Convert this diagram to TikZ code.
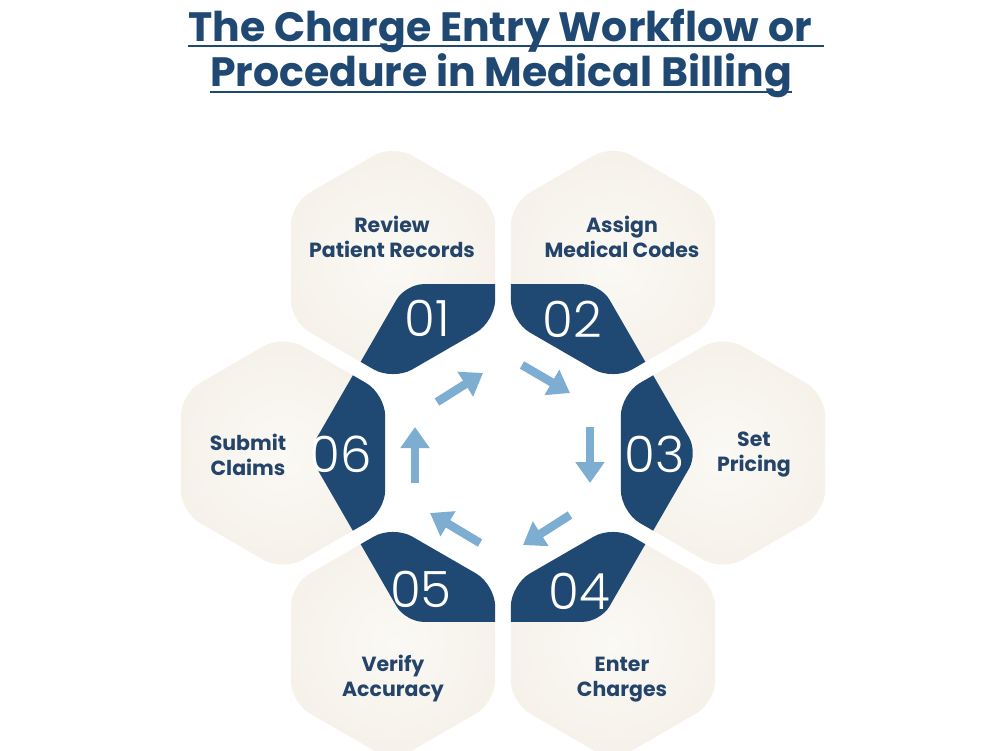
\documentclass[tikz,border=0pt]{standalone}
\usepackage{fontspec}
\setmainfont{Poppins}
\newfontfamily\numfont{Poppins Light}
\usetikzlibrary{calc,arrows.meta}
\definecolor{navy}{HTML}{1F4972}
\definecolor{txtnavy}{HTML}{24446A}
\definecolor{cream}{HTML}{F5F1E9}
\definecolor{creamdark}{HTML}{EBE4D7}
\definecolor{creamlight}{HTML}{FBF9F5}
\definecolor{arrowblue}{HTML}{7DAED1}
\pgfdeclareradialshading{creamshade}{\pgfpoint{0bp}{0bp}}{color(0bp)=(creamlight); color(25bp)=(cream); color(50bp)=(creamdark)}
\begin{document}
\begin{tikzpicture}[x=1pt,y=-1pt,
  lbl/.style={font=\fontsize{20.5}{25}\selectfont\bfseries, text=txtnavy, align=center, inner sep=0pt},
  num/.style={font=\numfont\fontsize{50}{50}\selectfont, text=white, inner sep=0pt},
  flow/.style={draw=arrowblue, line width=8.5pt, -{Triangle[length=21pt,width=28pt]}},
  ttl/.style={font=\fontsize{41}{46}\selectfont\bfseries, text=navy, inner sep=0pt},
  uline/.style={draw=navy, line width=2.5pt}]
\useasboundingbox (0,0) rectangle (1000,750);
\fill[white] (0,0) rectangle (1000,750);

% title
\node[ttl, anchor=base] (t1) at (500,41) {The Charge Entry Workflow or};
\node[ttl, anchor=base] (t2) at (501,86) {Procedure in Medical Billing};
\draw[uline] ($(t1.base west)+(0,5)$) -- ($(t1.base east)+(12,5)$);
\draw[uline] ($(t2.base west)+(0,6)$) -- ($(t2.base east)+(0,6)$);

% geometry
\coordinate (C) at (503,453);
\coordinate (h1) at (393,262.5);
\coordinate (h2) at (613,262.5);
\coordinate (h3) at (723,453);
\coordinate (h4) at (613,643.5);
\coordinate (h5) at (393,643.5);
\coordinate (h6) at (283,453);

\begin{scope}
\clip (0,0) rectangle (1000,750);
\foreach \i in {1,...,6}{
  \begin{scope}
    \clip[rounded corners=22pt] ($(h\i)+(90:118)$) -- ($(h\i)+(30:118)$) -- ($(h\i)+(-30:118)$) -- ($(h\i)+(-90:118)$) -- ($(h\i)+(-150:118)$) -- ($(h\i)+(150:118)$) -- cycle;
    \shade[shading=creamshade] ($(h\i)+(-120,-120)$) rectangle ($(h\i)+(120,120)$);
    \fill[navy, rounded corners=18pt] ($(C)+(0:195)$) -- ($(C)+(60:195)$) -- ($(C)+(120:195)$) -- ($(C)+(180:195)$) -- ($(C)+(240:195)$) -- ($(C)+(300:195)$) -- cycle;
  \end{scope}
}
\end{scope}

% labels
\node[lbl] (l1) at (392,237) {Review\\Patient Records};
\node[lbl] (l2) at (622,237) {Assign\\Medical Codes};
\node[lbl] (l3) at (754,455) {Set\\Pricing};
\node[lbl] (l4) at (622,680) {Enter\\Charges};
\node[lbl] (l5) at (393,678) {Verify\\Accuracy};
\node[lbl] (l6) at (248,455) {Submit\\Claims};

% numbers
\node[num] (n1) at (427,318) {01};
\node[num] (n2) at (572,319) {02};
\node[num] (n3) at (655,454) {03};
\node[num] (n4) at (579,591) {04};
\node[num] (n5) at (421,589) {05};
\node[num] (n6) at (341,454) {06};

% arrows
\coordinate (a1s) at (437,402); \coordinate (a1e) at (483,373);
\coordinate (a2s) at (522,365); \coordinate (a2e) at (570,393);
\coordinate (a3s) at (590,427); \coordinate (a3e) at (590,483);
\coordinate (a4s) at (570,515); \coordinate (a4e) at (523,545);
\coordinate (a5s) at (480,543); \coordinate (a5e) at (430,513);
\coordinate (a6s) at (415,483); \coordinate (a6e) at (415,427);
\foreach \k in {1,...,6}{ \draw[flow] (a\k s) -- (a\k e); }
\end{tikzpicture}
\end{document}
